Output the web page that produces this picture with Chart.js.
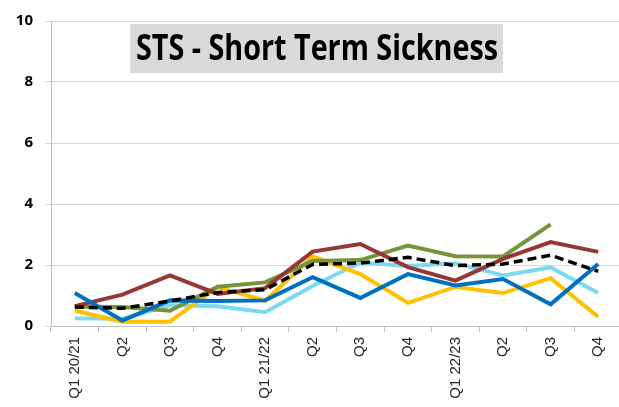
<!DOCTYPE html>
<html>
<head>
<meta charset="utf-8">
<title>STS - Short Term Sickness</title>
<script src="https://cdn.jsdelivr.net/npm/chart.js@4/dist/chart.umd.min.js"></script>
<style>
    html, body { margin: 0; padding: 0; background: #ffffff; overflow: hidden; }
    #wrap { position: relative; width: 622px; height: 407px; }
</style>
</head>
<body>
<div id="wrap"><canvas id="stsChart"></canvas></div>
<script>
// Quarters shown along the bottom axis
const quarters = ['Q1 20/21', 'Q2', 'Q3', 'Q4', 'Q1 21/22', 'Q2', 'Q3', 'Q4', 'Q1 22/23', 'Q2', 'Q3', 'Q4'];
const yTicks = [0, 2, 4, 6, 8, 10];

// Short term sickness rate per quarter
const overall   = [0.62, 0.58, 0.82, 1.10, 1.19, 2.02, 2.06, 2.25, 1.98, 2.03, 2.32, 1.79];
const areaBlue  = [1.08, 0.18, 0.84, 0.82, 0.84, 1.60, 0.92, 1.70, 1.33, 1.54, 0.71, 2.03];
const areaRed   = [0.65, 1.03, 1.66, 1.05, 1.24, 2.44, 2.69, 1.93, 1.49, 2.20, 2.75, 2.43];
const areaGreen = [0.63, 0.62, 0.50, 1.29, 1.43, 2.13, 2.16, 2.64, 2.29, 2.28, 3.33, null];
const areaGold  = [0.50, 0.14, 0.14, 1.28, 0.83, 2.28, 1.70, 0.76, 1.28, 1.08, 1.57, 0.30];
const areaCyan  = [0.25, 0.24, 0.68, 0.65, 0.45, 1.31, 2.08, 1.97, 2.06, 1.66, 1.92, 1.08];

const GRID = '#d9d9d9';
const AXIS = '#bfbfbf';

function line(label, data, color, width, dash) {
    return {
        label: label,
        data: data,
        borderColor: color,
        backgroundColor: color,
        borderWidth: width,
        borderDash: dash || [],
        pointRadius: 0,
        tension: 0,
        fill: false,
        spanGaps: false
    };
}

// grey boxed heading inside the plot
const titleBox = {
    id: 'titleBox',
    afterDraw(chart) {
        const ctx = chart.ctx;
        const text = 'STS - Short Term Sickness';
        ctx.save();
        ctx.fillStyle = '#d9d9d9';
        ctx.fillRect(130, 24, 373, 49);
        ctx.font = 'bold 35px "Open Sans"';
        const w = ctx.measureText(text).width;
        const sx = 362 / w;
        ctx.translate(317, 60);
        ctx.scale(sx, 1);
        ctx.fillStyle = '#000000';
        ctx.textAlign = 'center';
        ctx.textBaseline = 'alphabetic';
        ctx.fillText(text, 0, 0);
        ctx.restore();
    }
};

function drawChart() {
    const canvas = document.getElementById('stsChart');
    if (!window.Chart) {
        console.error('Chart.js is not loaded');
        return;
    }
    new Chart(canvas, {
        type: 'line',
        data: {
            labels: quarters,
            datasets: [
                line('Overall', overall, '#000000', 3.5, [9, 5]),
                line('Area 1', areaBlue, '#0070c0', 4),
                line('Area 2', areaRed, '#953735', 4),
                line('Area 3', areaGreen, '#77933c', 4),
                line('Area 4', areaGold, '#ffc000', 4),
                line('Area 5', areaCyan, '#7dd9f2', 4)
            ]
        },
        options: {
            responsive: true,
            maintainAspectRatio: false,
            animation: false,
            layout: { padding: { top: 16, left: 0, right: 0, bottom: 0 } },
            plugins: {
                legend: { display: false },
                title: { display: false },
                tooltip: { enabled: false }
            },
            scales: {
                x: {
                    offset: true,
                    afterFit(scale) { scale.height = 81; },
                    grid: {
                        offset: true,
                        drawOnChartArea: false,
                        drawTicks: true,
                        tickLength: 6,
                        color: AXIS
                    },
                    border: { color: AXIS },
                    ticks: {
                        autoSkip: false,
                        minRotation: 90,
                        maxRotation: 90,
                        padding: 5,
                        color: '#262626',
                        font: { family: '"Liberation Sans", Arial, sans-serif', size: 15 }
                    }
                },
                y: {
                    min: 0,
                    max: 10,
                    afterFit(scale) { scale.width = 51; },
                    afterBuildTicks(scale) { scale.ticks = yTicks.map(v => ({ value: v })); },
                    grid: { color: GRID, tickLength: 6 },
                    border: { color: AXIS },
                    ticks: {
                        padding: 12,
                        color: '#000000',
                        font: { family: '"Open Sans", sans-serif', size: 15, weight: 'bold' }
                    }
                }
            }
        },
        plugins: [titleBox]
    });
}

drawChart();
</script>
</body>
</html>
